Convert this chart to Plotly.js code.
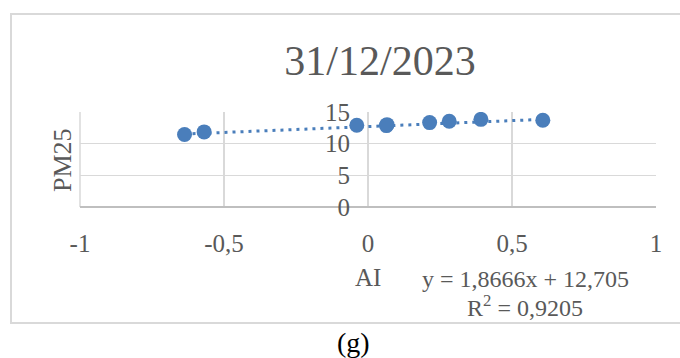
<!DOCTYPE html>
<html>
<head>
<meta charset="utf-8">
<script src="https://cdn.plot.ly/plotly-3.0.1.min.js"></script>
<style>
html,body{margin:0;padding:0;background:#fff;}
#chart{width:680px;height:358px;}
</style>
</head>
<body>
<div id="chart"></div>
<script>
// ---- data ----
const chartTitle = "31/12/2023";
const xLabel = "AI";
const yLabel = "PM25";
const panelLabel = "(g)";
const aiValues   = [-0.637, -0.569, -0.039, 0.064, 0.066, 0.214, 0.282, 0.392, 0.607];
const pm25Values = [11.45, 11.86, 12.91, 12.85, 13.00, 13.33, 13.53, 13.84, 13.69];
const trendSlope = 1.8666;
const trendIntercept = 12.705;
const rSquared = 0.9205;
const xTickVals = [-1, -0.5, 0, 0.5, 1];
const xTickText = ["-1", "-0,5", "0", "0,5", "1"];
const yTickVals = [0, 5, 10, 15];
const yTickText = ["0", "5", "10", "15"];

// ---- layout helpers (pixel -> paper) ----
const W = 680, H = 358;
const M = {l: 80, r: 24, t: 112, b: 151};
const pw = W - M.l - M.r, ph = H - M.t - M.b;
const px = x => (x - M.l) / pw;
const py = y => (H - M.b - y) / ph;

const fmt = v => v.toString().replace('.', ',');
const xMin = Math.min(...aiValues), xMax = Math.max(...aiValues);
const trendX = [xMin, xMax];
const trendY = trendX.map(x => trendSlope * x + trendIntercept);

const blue = '#4a7ebb';
const grey = '#595959';
const gridGrey = '#d9d9d9';
const font = 'Liberation Serif, Times New Roman, serif';

const traces = [
  {
    x: trendX, y: trendY, type: 'scatter', mode: 'lines',
    line: {color: blue, width: 3, dash: '3px,5px'},
    hoverinfo: 'skip', showlegend: false
  },
  {
    x: aiValues, y: pm25Values, type: 'scatter', mode: 'markers',
    marker: {color: blue, size: 15},
    showlegend: false
  }
];

const layout = {
  width: W, height: H,
  margin: M,
  paper_bgcolor: '#fff', plot_bgcolor: '#fff',
  font: {family: font, color: grey, size: 25},
  title: {
    text: chartTitle,
    font: {family: font, size: 42, color: grey},
    xref: 'container', yref: 'container',
    x: 380 / W, y: 1 - 60 / H, xanchor: 'center', yanchor: 'middle'
  },
  xaxis: {
    range: [-1, 1], tickvals: xTickVals, ticktext: xTickText,
    showgrid: true, gridcolor: gridGrey, gridwidth: 1.5,
    zeroline: true, zerolinecolor: gridGrey, zerolinewidth: 1.5,
    showline: false, ticks: '', ticklabelstandoff: 19,
    tickfont: {family: font, size: 25, color: grey},
    fixedrange: true
  },
  yaxis: {
    range: [0, 15], tickvals: yTickVals, ticktext: yTickText,
    anchor: 'free', position: 0.5, side: 'left',
    showgrid: true, gridcolor: gridGrey, gridwidth: 1.5,
    zeroline: true, zerolinecolor: '#bfbfbf', zerolinewidth: 1.5,
    showline: false, ticks: '', ticklabelstandoff: 18,
    tickfont: {family: font, size: 25, color: grey},
    fixedrange: true
  },
  shapes: [
    {type: 'rect', xref: 'paper', yref: 'paper',
     x0: px(11), x1: px(700), y0: py(323), y1: py(14),
     line: {color: gridGrey, width: 2}, fillcolor: 'rgba(0,0,0,0)', layer: 'below'},
    {type: 'line', xref: 'paper', yref: 'paper', x0: 0, x1: 0, y0: 0, y1: 1,
     line: {color: gridGrey, width: 1.5}, layer: 'below'}
  ],
  annotations: [
    {text: yLabel, xref: 'paper', yref: 'paper', x: px(62), y: py(160),
     textangle: -90, showarrow: false, xanchor: 'center', yanchor: 'middle',
     font: {family: font, size: 26, color: grey}},
    {text: xLabel, xref: 'paper', yref: 'paper', x: px(368), y: py(277),
     showarrow: false, xanchor: 'center', yanchor: 'middle',
     font: {family: font, size: 25, color: grey}},
    {text: 'y = ' + fmt(trendSlope) + 'x + ' + fmt(trendIntercept), xref: 'paper', yref: 'paper',
     x: px(525), y: py(279), showarrow: false, xanchor: 'center', yanchor: 'middle',
     font: {family: font, size: 24, color: grey}},
    {text: 'R<sup>2</sup> = ' + fmt(rSquared), xref: 'paper', yref: 'paper',
     x: px(525), y: py(306), showarrow: false, xanchor: 'center', yanchor: 'middle',
     font: {family: font, size: 24, color: grey}},
    {text: panelLabel, xref: 'paper', yref: 'paper', x: px(353), y: py(342),
     showarrow: false, xanchor: 'center', yanchor: 'middle',
     font: {family: font, size: 28, color: '#000'}}
  ]
};

Plotly.newPlot('chart', traces, layout, {displayModeBar: false, staticPlot: true});
</script>
</body>
</html>
